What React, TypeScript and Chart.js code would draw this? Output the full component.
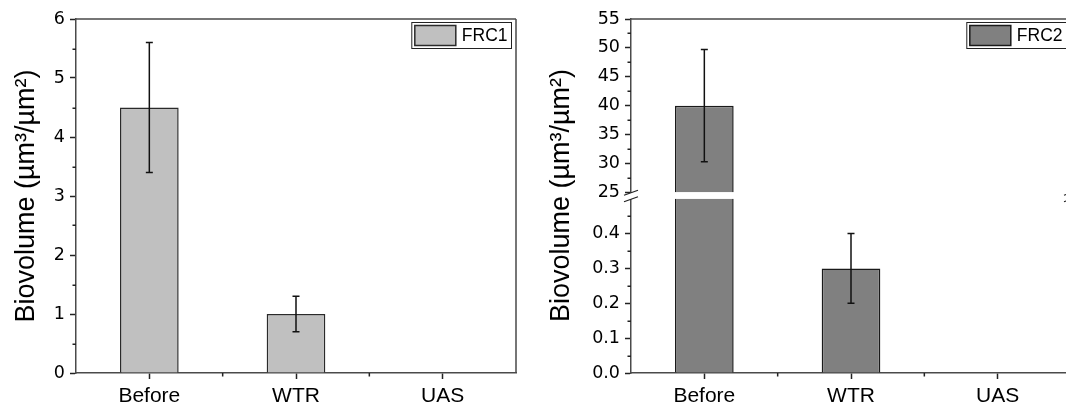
import React, { useEffect, useRef } from 'react';
import { Chart, registerables } from 'chart.js';

Chart.register(...registerables);

// ---------------- data ----------------
const categories = ['Before', 'WTR', 'UAS'];

const frc1Label = 'FRC1';
const frc1Values = [4.5, 1.0, 0];
const frc1Errors = [1.1, 0.3, 0];

const frc2Label = 'FRC2';
const frc2Values = [40, 0.3, 0];
const frc2Errors = [9.7, 0.1, 0];

const leftYTicks = [0, 1, 2, 3, 4, 5, 6];
const rightUpperTicks = [25, 30, 35, 40, 45, 50, 55];
const rightLowerTicks = [0, 0.1, 0.2, 0.3, 0.4];
const rightLowerMax = 0.5;

const yTitle = 'Biovolume (µm³/µm²)';

// ---------------- styles ----------------
const SANS = "'Liberation Sans', Arial, sans-serif";
const axisColor = '#4a4a4a';
const tickColor = '#222';
const tickFont = { family: "'DejaVu Sans', sans-serif", size: 17.5 };
const catFont = { family: SANS, size: 21 };
const titleFont = { family: SANS, size: 27 };

const decorPlugin = {
  id: 'decor',
  beforeDatasetDraw(chart: any, args: any) {
    const ctx = chart.ctx;
    const ys = args.meta.yScale;
    ctx.save();
    ctx.beginPath();
    ctx.rect(0, ys.top, chart.width, ys.bottom - ys.top);
    ctx.clip();
  },
  afterDatasetDraw(chart: any, args: any) {
    const ctx = chart.ctx;
    const meta = args.meta;
    const ds = chart.data.datasets[args.index];
    const errs: number[] = ds.errors || [];
    const ys = meta.yScale;
    ctx.strokeStyle = '#111';
    ctx.lineWidth = 1.5;
    meta.data.forEach((bar: any, i: number) => {
      const e = errs[i];
      const v = ds.data[i];
      if (!e) return;
      const x = bar.x;
      const yTop = ys.getPixelForValue(v + e);
      const yBot = ys.getPixelForValue(v - e);
      ctx.beginPath();
      ctx.moveTo(x, yTop);
      ctx.lineTo(x, yBot);
      ctx.moveTo(x - 3.5, yTop);
      ctx.lineTo(x + 3.5, yTop);
      ctx.moveTo(x - 3.5, yBot);
      ctx.lineTo(x + 3.5, yBot);
      ctx.stroke();
    });
    ctx.restore();
  },
  afterDraw(chart: any) {
    const ctx = chart.ctx;
    const ca = chart.chartArea;
    const gap = chart.scales.yGap;
    ctx.save();
    // minor ticks on y scales
    ctx.strokeStyle = tickColor;
    ctx.lineWidth = 1.5;
    Object.values(chart.scales).forEach((s: any) => {
      if (s.axis !== 'y' || s.options.ticks.display === false || s.ticks.length < 2) return;
      const step = s.ticks[1].value - s.ticks[0].value;
      ctx.beginPath();
      for (let v = s.ticks[0].value + step / 2; v < s.max + 1e-9; v += step) {
        const p = Math.round(s.getPixelForValue(v)) + 0.25;
        ctx.moveTo(ca.left - 3.5, p);
        ctx.lineTo(ca.left, p);
      }
      ctx.stroke();
    });
    // minor ticks on x scale at category boundaries
    const xs = chart.scales.x;
    ctx.beginPath();
    for (let i = 0; i < categories.length - 1; i++) {
      const p = (xs.getPixelForValue(i) + xs.getPixelForValue(i + 1)) / 2;
      ctx.moveTo(p, ca.bottom);
      ctx.lineTo(p, ca.bottom + 3.5);
    }
    ctx.stroke();
    // frame (top + right)
    ctx.strokeStyle = axisColor;
    ctx.lineWidth = 1.5;
    ctx.beginPath();
    ctx.moveTo(ca.left, ca.top);
    ctx.lineTo(ca.right, ca.top);
    ctx.moveTo(ca.right, ca.top);
    if (gap) {
      ctx.lineTo(ca.right, gap.top);
      ctx.moveTo(ca.right, gap.bottom);
    }
    ctx.lineTo(ca.right, ca.bottom);
    ctx.stroke();
    // break markers
    if (gap) {
      [ca.left, ca.right].forEach((x: number) => {
        ctx.fillStyle = '#fff';
        ctx.beginPath();
        ctx.moveTo(x - 7, gap.top + 3);
        ctx.lineTo(x + 7, gap.top - 2);
        ctx.lineTo(x + 7, gap.bottom - 2);
        ctx.lineTo(x - 7, gap.bottom + 3);
        ctx.closePath();
        ctx.fill();
        ctx.strokeStyle = '#222';
        ctx.lineWidth = 1.2;
        ctx.beginPath();
        ctx.moveTo(x - 7, gap.top + 3);
        ctx.lineTo(x + 7, gap.top - 2);
        ctx.moveTo(x - 7, gap.bottom + 3);
        ctx.lineTo(x + 7, gap.bottom - 2);
        ctx.stroke();
      });
    }
    // legend box
    const ds = chart.data.datasets[0];
    ctx.font = `17.5px ${SANS}`;
    const tw = ctx.measureText(ds.label).width;
    const sw = 41;
    const sh = 20;
    const boxH = 26;
    const boxW = 3 + sw + 6 + tw + 4;
    const right = ca.right - 4.5;
    const top = ca.top + 3.5;
    const left = right - boxW;
    ctx.fillStyle = '#fff';
    ctx.fillRect(left, top, boxW, boxH);
    ctx.strokeStyle = '#222';
    ctx.lineWidth = 1;
    ctx.strokeRect(left, top, boxW, boxH);
    ctx.fillStyle = ds.backgroundColor;
    ctx.fillRect(left + 3, top + 3, sw, sh);
    ctx.strokeStyle = ds.borderColor;
    ctx.lineWidth = 1.5;
    ctx.strokeRect(left + 3, top + 3, sw, sh);
    ctx.fillStyle = '#000';
    ctx.textBaseline = 'middle';
    ctx.textAlign = 'left';
    ctx.fillText(ds.label, left + 3 + sw + 6, top + boxH / 2 + 1);
    ctx.restore();
  },
};

const xScale = () => ({
  type: 'category',
  offset: true,
  grid: { display: true, drawOnChartArea: false, offset: false, tickLength: 6, tickColor, tickWidth: 1.5 },
  border: { display: true, color: axisColor, width: 1.5 },
  ticks: { color: '#000', font: catFont, padding: 5, maxRotation: 0, autoSkip: false },
  afterFit: (s: any) => {
    s.height = 34;
  },
});

const yCommon = (width: number) => ({
  type: 'linear',
  position: 'left',
  grid: { display: true, drawOnChartArea: false, tickLength: 6, tickColor, tickWidth: 1.5 },
  border: { display: true, color: axisColor, width: 1.5 },
  afterFit: (s: any) => {
    s.width = width;
  },
});

const barStyle = {
  borderWidth: 1.5,
  barPercentage: 0.4,
  categoryPercentage: 1,
  grouped: false,
};

function leftConfig(): any {
  return {
    type: 'bar',
    data: {
      labels: categories,
      datasets: [
        {
          label: frc1Label,
          data: frc1Values,
          errors: frc1Errors,
          backgroundColor: '#c0c0c0',
          borderColor: '#2a2a2a',
          ...barStyle,
        },
      ],
    },
    options: {
      responsive: false,
      animation: false,
      events: [],
      layout: { padding: { top: 19, right: 14, left: 0, bottom: 0 } },
      plugins: { legend: { display: false }, tooltip: { enabled: false } },
      scales: {
        x: xScale(),
        y: {
          ...yCommon(76),
          min: leftYTicks[0],
          max: leftYTicks[leftYTicks.length - 1],
          afterBuildTicks: (s: any) => {
            s.ticks = leftYTicks.map((v) => ({ value: v }));
          },
          ticks: { color: '#000', font: tickFont, padding: 5, autoSkip: false, callback: (v: any) => String(v) },
          title: { display: true, text: yTitle, color: '#000', font: titleFont, padding: { top: 10, bottom: 0 } },
        },
      },
    },
    plugins: [decorPlugin],
  };
}

function rightConfig(): any {
  const common = {
    label: frc2Label,
    data: frc2Values,
    errors: frc2Errors,
    backgroundColor: '#808080',
    borderColor: '#1a1a1a',
    ...barStyle,
  };
  return {
    type: 'bar',
    data: {
      labels: categories,
      datasets: [
        { ...common, yAxisID: 'yHigh' },
        { ...common, yAxisID: 'yLow' },
      ],
    },
    options: {
      responsive: false,
      animation: false,
      events: [],
      layout: { padding: { top: 19, right: 9, left: 0, bottom: 0 } },
      plugins: { legend: { display: false }, tooltip: { enabled: false } },
      scales: {
        x: xScale(),
        yLow: {
          ...yCommon(96),
          stack: 'frc2',
          stackWeight: 174.5,
          min: rightLowerTicks[0],
          max: rightLowerMax,
          afterBuildTicks: (s: any) => {
            s.ticks = rightLowerTicks.map((v) => ({ value: v }));
          },
          ticks: { color: '#000', font: tickFont, padding: 5, autoSkip: false, callback: (v: any) => Number(v).toFixed(1) },
        },
        yGap: {
          type: 'linear',
          position: 'left',
          stack: 'frc2',
          stackWeight: 6.5,
          min: 0,
          max: 1,
          grid: { display: false },
          border: { display: false },
          ticks: { display: false },
          title: { display: true, text: yTitle, color: '#000', font: titleFont, padding: { top: 10, bottom: 0 } },
          afterFit: (s: any) => {
            s.width = 96;
          },
        },
        yHigh: {
          ...yCommon(96),
          stack: 'frc2',
          stackWeight: 173.5,
          min: rightUpperTicks[0],
          max: rightUpperTicks[rightUpperTicks.length - 1],
          afterBuildTicks: (s: any) => {
            s.ticks = rightUpperTicks.map((v) => ({ value: v }));
          },
          ticks: { color: '#000', font: tickFont, padding: 5, autoSkip: false, callback: (v: any) => String(v) },
        },
      },
    },
    plugins: [decorPlugin],
  };
}

function Panel({ make, left, width }: { make: () => any; left: number; width: number }) {
  const ref = useRef<HTMLCanvasElement | null>(null);
  useEffect(() => {
    const chart = new Chart(ref.current as HTMLCanvasElement, make());
    return () => chart.destroy();
  }, []);
  return (
    <canvas
      ref={ref}
      width={width}
      height={407}
      style={{ position: 'absolute', left, top: 0, width, height: 407 }}
    />
  );
}

export default function App() {
  Chart.defaults.font.family = SANS;
  return (
    <div
      style={{
        position: 'fixed',
        left: 0,
        top: 0,
        width: 1066,
        height: 407,
        overflow: 'hidden',
        background: '#fff',
      }}
    >
      <Panel make={leftConfig} left={0} width={530} />
      <Panel make={rightConfig} left={535} width={545} />
    </div>
  );
}
